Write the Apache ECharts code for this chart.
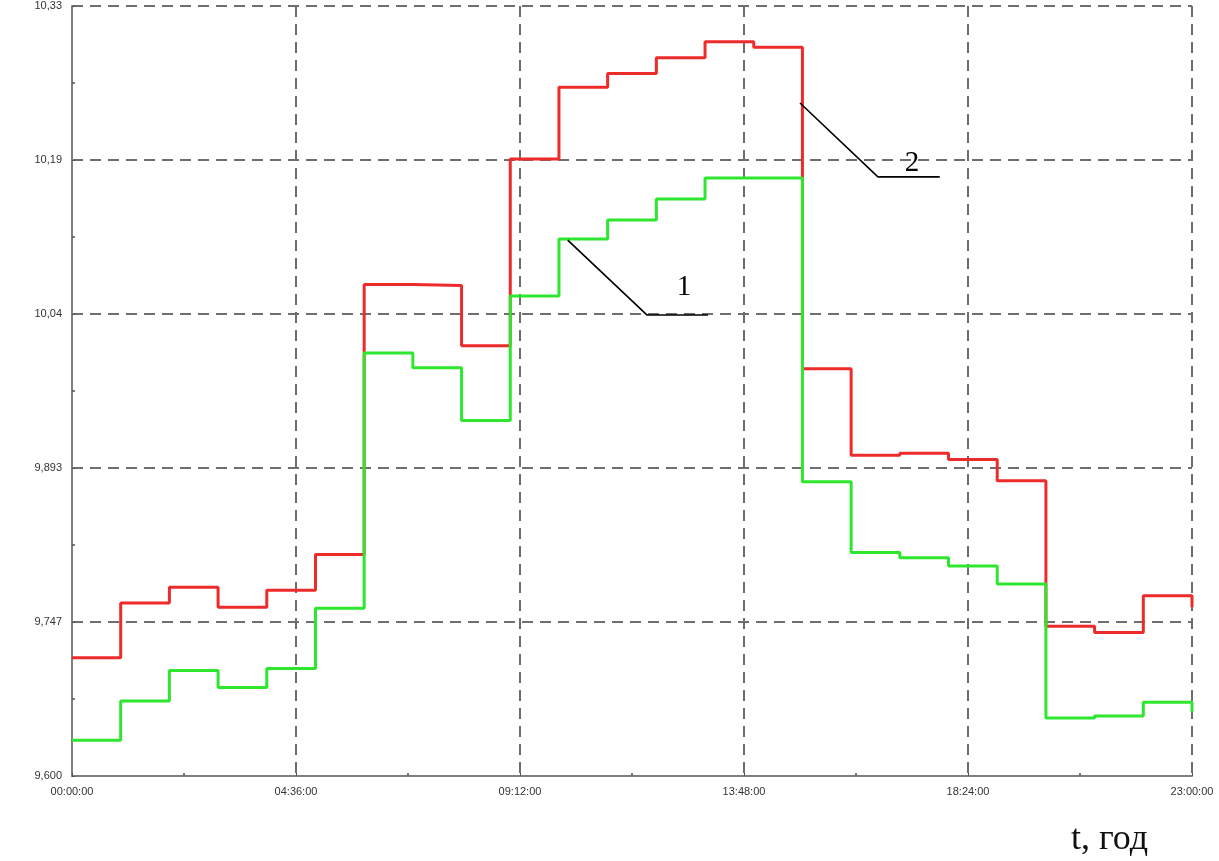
<!DOCTYPE html>
<html>
<head>
<meta charset="utf-8">
<script src="https://cdn.jsdelivr.net/npm/echarts@6/dist/echarts.min.js"></script>
<style>
  html, body { margin: 0; padding: 0; background: #fff; }
  #chart { width: 1219px; height: 861px; }
</style>
</head>
<body>
<div id="chart"></div>
<script>
// ---- data ----
const hours = [0,1,2,3,4,5,6,7,8,9,10,11,12,13,14,15,16,17,18,19,20,21,22,23];
const redValues = [9.712, 9.764, 9.779, 9.760, 9.776, 9.810, 10.066, 10.065, 10.008, 10.185,
                   10.253, 10.266, 10.281, 10.296, 10.291, 9.986, 9.904, 9.906, 9.900, 9.880,
                   9.742, 9.736, 9.771, 9.760];
const greenValues = [9.634, 9.671, 9.700, 9.684, 9.702, 9.759, 10.001, 9.987, 9.937, 10.055,
                     10.109, 10.127, 10.147, 10.167, 10.167, 9.879, 9.812, 9.807, 9.799, 9.782,
                     9.655, 9.657, 9.670, 9.661];
const xTickLabels = ['00:00:00', '04:36:00', '09:12:00', '13:48:00', '18:24:00', '23:00:00'];
const yTickLabels = ['9,600', '9,747', '9,893', '10,04', '10,19', '10,33'];
// annotation leaders (data coordinates)
const leader1X = [10.18, 11.81, 13.06];
const leader1Y = [10.108, 10.037, 10.037];
const leader2X = [14.95, 16.55, 17.82];
const leader2Y = [10.238, 10.168, 10.168];
const labelNames = ['1', '2'];
const labelX = [12.57, 17.25];
const labelY = [10.063, 10.181];
const xAxisTitle = 't, год';

const chart = echarts.init(document.getElementById('chart'), null, { renderer: 'canvas' });

const gridLine = { show: true, lineStyle: { color: '#6e6e6e', width: 2, type: [11, 7] } };

const option = {
  animation: false,
  backgroundColor: '#ffffff',
  grid: { left: 72, right: 27, top: 6, bottom: 85, containLabel: false },
  xAxis: {
    type: 'value',
    min: 0, max: 23, interval: 4.6,
    axisLine: { show: true, onZero: false, lineStyle: { color: '#808080', width: 2 } },
    axisTick: { show: true, inside: true, length: 3, lineStyle: { color: '#555' } },
    minorTick: { show: true, splitNumber: 2, length: 3, lineStyle: { color: '#555', width: 1.5 } },
    splitLine: gridLine,
    axisLabel: {
      color: '#333', fontSize: 11, fontFamily: 'Liberation Sans, Arial, sans-serif',
      margin: 10,
      formatter: function (v) { return xTickLabels[Math.round(v / 4.6)]; }
    }
  },
  yAxis: {
    type: 'value',
    min: 9.6, max: 10.33, interval: 0.146,
    axisLine: { show: true, onZero: false, lineStyle: { color: '#808080', width: 2 } },
    axisTick: { show: true, inside: true, length: 3, lineStyle: { color: '#555' } },
    minorTick: { show: true, splitNumber: 2, length: 3, lineStyle: { color: '#555', width: 1.5 } },
    splitLine: gridLine,
    axisLabel: {
      color: '#333', fontSize: 11, fontFamily: 'Liberation Sans, Arial, sans-serif',
      margin: 10,
      formatter: function (v) { return yTickLabels[Math.round((v - 9.6) / 0.146)]; }
    }
  },
  series: [
    {
      name: '2', type: 'line', step: 'end', symbol: 'none', silent: true,
      lineStyle: { color: '#ee2b2b', width: 3 },
      data: hours.map((h, i) => [h, redValues[i]]),
      z: 3
    },
    {
      name: '1', type: 'line', step: 'end', symbol: 'none', silent: true,
      lineStyle: { color: '#2ee62e', width: 3 },
      data: hours.map((h, i) => [h, greenValues[i]]),
      z: 4
    },
    {
      type: 'line', symbol: 'none', silent: true,
      lineStyle: { color: '#000', width: 1.6 },
      data: leader1X.map((x, i) => [x, leader1Y[i]]),
      z: 5
    },
    {
      type: 'line', symbol: 'none', silent: true,
      lineStyle: { color: '#000', width: 1.6 },
      data: leader2X.map((x, i) => [x, leader2Y[i]]),
      z: 5
    },
    {
      type: 'scatter', symbolSize: 0, silent: true,
      itemStyle: { opacity: 1 },
      data: labelNames.map((n, i) => ({ name: n, value: [labelX[i], labelY[i]] })),
      label: {
        show: true, position: 'inside', opacity: 1,
        formatter: function (p) { return p.name; },
        color: '#000', fontSize: 29, fontFamily: '"Liberation Serif", "Times New Roman", serif'
      },
      z: 6
    }
  ],
  graphic: [
    {
      type: 'text', left: 1071, top: 822,
      style: {
        text: xAxisTitle, fill: '#111',
        font: '36px "Liberation Serif", "Times New Roman", serif'
      }
    }
  ]
};

chart.setOption(option);
</script>
</body>
</html>
